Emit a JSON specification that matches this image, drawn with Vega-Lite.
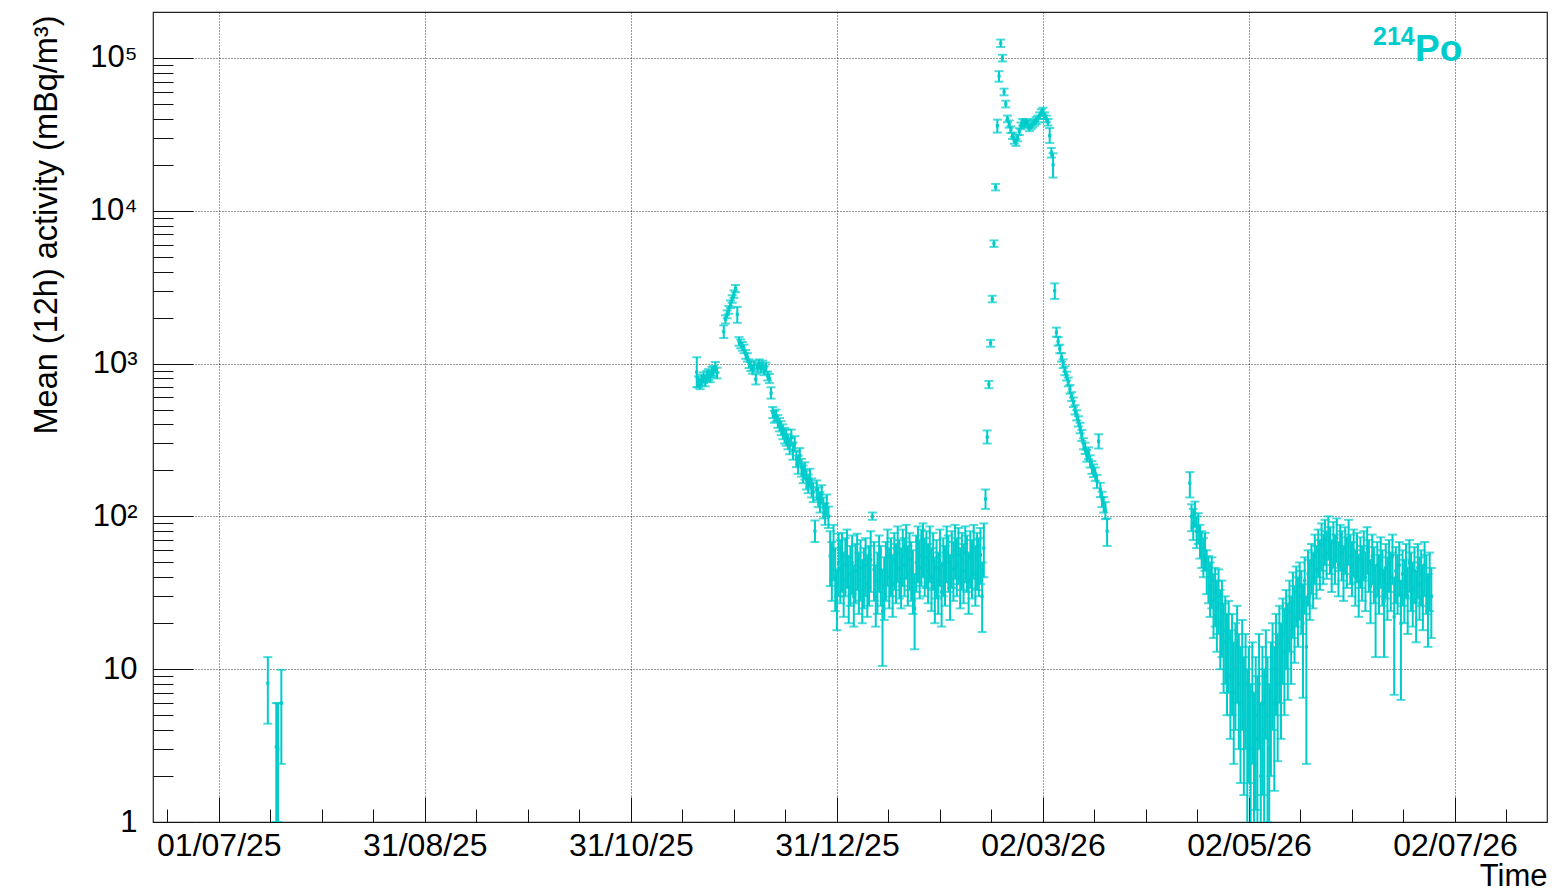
{
"$schema": "https://vega.github.io/schema/vega-lite/v6.json",
"width": 1394, "height": 810,
"autosize": {"type": "none"},
"padding": {"left": 153, "top": 12, "right": 5, "bottom": 71},
"background": "white",
"config": {"font": "Liberation Sans", "view": {"stroke": "#222", "strokeWidth": 1.2}, "axis": {"labelColor": "#000", "titleColor": "#000", "tickColor": "#111", "tickWidth": 1, "domain": false, "labelFont": "Liberation Sans", "titleFont": "Liberation Sans"}},
"data": {"values": [
{"t":"2025-07-15 12:00","v":8.1,"lo":4.4,"hi":12},
{"t":"2025-07-18 00:00","v":3.1,"lo":1,"hi":6},
{"t":"2025-07-18 12:00","v":3,"lo":1,"hi":6},
{"t":"2025-07-19 12:00","v":6,"lo":2.4,"hi":9.9},
{"t":"2025-11-19 12:00","v":880,"lo":700,"hi":1100},
{"t":"2025-11-20 00:00","v":760,"lo":700,"hi":825},
{"t":"2025-11-20 12:00","v":740,"lo":680,"hi":800},
{"t":"2025-11-21 00:00","v":780,"lo":720,"hi":845},
{"t":"2025-11-21 12:00","v":810,"lo":745,"hi":875},
{"t":"2025-11-22 00:00","v":770,"lo":710,"hi":830},
{"t":"2025-11-22 12:00","v":830,"lo":765,"hi":895},
{"t":"2025-11-23 00:00","v":850,"lo":780,"hi":920},
{"t":"2025-11-23 12:00","v":820,"lo":755,"hi":885},
{"t":"2025-11-24 00:00","v":880,"lo":810,"hi":950},
{"t":"2025-11-24 12:00","v":900,"lo":830,"hi":970},
{"t":"2025-11-25 00:00","v":950,"lo":875,"hi":1025},
{"t":"2025-11-25 12:00","v":870,"lo":800,"hi":940},
{"t":"2025-11-27 12:00","v":1620,"lo":1470,"hi":1780},
{"t":"2025-11-28 00:00","v":1950,"lo":1830,"hi":2070},
{"t":"2025-11-28 12:00","v":2100,"lo":1980,"hi":2230},
{"t":"2025-11-29 00:00","v":2250,"lo":2120,"hi":2380},
{"t":"2025-11-29 12:00","v":2450,"lo":2310,"hi":2590},
{"t":"2025-11-30 00:00","v":2650,"lo":2500,"hi":2800},
{"t":"2025-11-30 12:00","v":2850,"lo":2690,"hi":3010},
{"t":"2025-12-01 00:00","v":3100,"lo":2930,"hi":3270},
{"t":"2025-12-01 12:00","v":2100,"lo":1850,"hi":2350},
{"t":"2025-12-02 00:00","v":1400,"lo":1310,"hi":1490},
{"t":"2025-12-02 12:00","v":1350,"lo":1260,"hi":1440},
{"t":"2025-12-03 00:00","v":1300,"lo":1215,"hi":1385},
{"t":"2025-12-03 12:00","v":1250,"lo":1170,"hi":1330},
{"t":"2025-12-04 00:00","v":1150,"lo":1075,"hi":1225},
{"t":"2025-12-04 12:00","v":1100,"lo":1030,"hi":1170},
{"t":"2025-12-05 00:00","v":1000,"lo":935,"hi":1065},
{"t":"2025-12-05 12:00","v":960,"lo":895,"hi":1025},
{"t":"2025-12-06 00:00","v":920,"lo":860,"hi":980},
{"t":"2025-12-06 12:00","v":980,"lo":915,"hi":1045},
{"t":"2025-12-07 00:00","v":790,"lo":730,"hi":850},
{"t":"2025-12-07 12:00","v":950,"lo":885,"hi":1015},
{"t":"2025-12-08 00:00","v":1000,"lo":935,"hi":1065},
{"t":"2025-12-08 12:00","v":930,"lo":870,"hi":990},
{"t":"2025-12-09 00:00","v":980,"lo":915,"hi":1045},
{"t":"2025-12-09 12:00","v":900,"lo":840,"hi":960},
{"t":"2025-12-10 00:00","v":950,"lo":885,"hi":1015},
{"t":"2025-12-10 12:00","v":830,"lo":775,"hi":885},
{"t":"2025-12-11 00:00","v":800,"lo":745,"hi":855},
{"t":"2025-12-11 12:00","v":640,"lo":590,"hi":700},
{"t":"2025-12-12 00:00","v":480,"lo":440,"hi":520},
{"t":"2025-12-12 12:00","v":450,"lo":410,"hi":490},
{"t":"2025-12-13 00:00","v":460,"lo":420,"hi":500},
{"t":"2025-12-13 12:00","v":420,"lo":380,"hi":460},
{"t":"2025-12-14 00:00","v":400,"lo":360,"hi":440},
{"t":"2025-12-14 12:00","v":380,"lo":340,"hi":420},
{"t":"2025-12-15 00:00","v":360,"lo":320,"hi":400},
{"t":"2025-12-15 12:00","v":340,"lo":300,"hi":380},
{"t":"2025-12-16 00:00","v":330,"lo":290,"hi":370},
{"t":"2025-12-16 12:00","v":310,"lo":275,"hi":345},
{"t":"2025-12-17 00:00","v":290,"lo":255,"hi":325},
{"t":"2025-12-17 12:00","v":330,"lo":290,"hi":370},
{"t":"2025-12-18 00:00","v":270,"lo":235,"hi":305},
{"t":"2025-12-18 12:00","v":300,"lo":265,"hi":335},
{"t":"2025-12-19 00:00","v":240,"lo":210,"hi":270},
{"t":"2025-12-19 12:00","v":220,"lo":190,"hi":250},
{"t":"2025-12-20 00:00","v":250,"lo":220,"hi":280},
{"t":"2025-12-20 12:00","v":210,"lo":182,"hi":238},
{"t":"2025-12-21 00:00","v":190,"lo":165,"hi":215},
{"t":"2025-12-21 12:00","v":200,"lo":174,"hi":226},
{"t":"2025-12-22 00:00","v":175,"lo":150,"hi":200},
{"t":"2025-12-22 12:00","v":165,"lo":142,"hi":188},
{"t":"2025-12-23 00:00","v":180,"lo":155,"hi":205},
{"t":"2025-12-23 12:00","v":155,"lo":133,"hi":177},
{"t":"2025-12-24 00:00","v":145,"lo":124,"hi":166},
{"t":"2025-12-24 12:00","v":80,"lo":68,"hi":94},
{"t":"2025-12-25 00:00","v":150,"lo":128,"hi":172},
{"t":"2025-12-25 12:00","v":135,"lo":115,"hi":155},
{"t":"2025-12-26 00:00","v":125,"lo":106,"hi":144},
{"t":"2025-12-26 12:00","v":140,"lo":120,"hi":160},
{"t":"2025-12-27 00:00","v":115,"lo":97,"hi":133},
{"t":"2025-12-27 12:00","v":105,"lo":88,"hi":122},
{"t":"2025-12-28 00:00","v":120,"lo":101,"hi":139},
{"t":"2025-12-28 12:00","v":100,"lo":84,"hi":116},
{"t":"2025-12-29 00:00","v":55,"lo":35,"hi":80},
{"t":"2025-12-29 12:00","v":45,"lo":28,"hi":68},
{"t":"2025-12-30 00:00","v":60,"lo":38,"hi":88},
{"t":"2025-12-30 12:00","v":40,"lo":24,"hi":62},
{"t":"2025-12-31 00:00","v":28,"lo":18,"hi":45},
{"t":"2025-12-31 12:00","v":50,"lo":30,"hi":77},
{"t":"2026-01-01 00:00","v":45,"lo":27,"hi":70},
{"t":"2026-01-01 12:00","v":52,"lo":32,"hi":78},
{"t":"2026-01-02 00:00","v":38,"lo":22,"hi":58},
{"t":"2026-01-02 12:00","v":48,"lo":30,"hi":72},
{"t":"2026-01-03 00:00","v":55,"lo":34,"hi":82},
{"t":"2026-01-03 12:00","v":35,"lo":20,"hi":55},
{"t":"2026-01-04 00:00","v":42,"lo":26,"hi":64},
{"t":"2026-01-04 12:00","v":50,"lo":31,"hi":75},
{"t":"2026-01-05 00:00","v":30,"lo":19,"hi":48},
{"t":"2026-01-05 12:00","v":44,"lo":27,"hi":66},
{"t":"2026-01-06 00:00","v":52,"lo":33,"hi":77},
{"t":"2026-01-06 12:00","v":38,"lo":23,"hi":58},
{"t":"2026-01-07 00:00","v":46,"lo":28,"hi":70},
{"t":"2026-01-07 12:00","v":33,"lo":20,"hi":52},
{"t":"2026-01-08 00:00","v":40,"lo":25,"hi":62},
{"t":"2026-01-08 12:00","v":48,"lo":30,"hi":72},
{"t":"2026-01-09 00:00","v":36,"lo":22,"hi":56},
{"t":"2026-01-09 12:00","v":42,"lo":26,"hi":64},
{"t":"2026-01-10 00:00","v":52,"lo":32,"hi":80},
{"t":"2026-01-10 12:00","v":100,"lo":95,"hi":106},
{"t":"2026-01-11 00:00","v":45,"lo":28,"hi":68},
{"t":"2026-01-11 12:00","v":30,"lo":19,"hi":48},
{"t":"2026-01-12 00:00","v":38,"lo":23,"hi":58},
{"t":"2026-01-12 12:00","v":50,"lo":32,"hi":75},
{"t":"2026-01-13 00:00","v":42,"lo":26,"hi":64},
{"t":"2026-01-13 12:00","v":24,"lo":10.5,"hi":45},
{"t":"2026-01-14 00:00","v":35,"lo":21,"hi":54},
{"t":"2026-01-14 12:00","v":45,"lo":28,"hi":68},
{"t":"2026-01-15 00:00","v":55,"lo":35,"hi":82},
{"t":"2026-01-15 12:00","v":40,"lo":25,"hi":62},
{"t":"2026-01-16 00:00","v":48,"lo":30,"hi":72},
{"t":"2026-01-16 12:00","v":36,"lo":22,"hi":56},
{"t":"2026-01-17 00:00","v":52,"lo":33,"hi":78},
{"t":"2026-01-17 12:00","v":44,"lo":27,"hi":66},
{"t":"2026-01-18 00:00","v":58,"lo":37,"hi":86},
{"t":"2026-01-18 12:00","v":46,"lo":29,"hi":70},
{"t":"2026-01-19 00:00","v":40,"lo":25,"hi":62},
{"t":"2026-01-19 12:00","v":55,"lo":35,"hi":82},
{"t":"2026-01-20 00:00","v":48,"lo":30,"hi":72},
{"t":"2026-01-20 12:00","v":60,"lo":39,"hi":88},
{"t":"2026-01-21 00:00","v":42,"lo":26,"hi":64},
{"t":"2026-01-21 12:00","v":52,"lo":33,"hi":78},
{"t":"2026-01-22 00:00","v":45,"lo":28,"hi":68},
{"t":"2026-01-22 12:00","v":38,"lo":23,"hi":60},
{"t":"2026-01-23 00:00","v":25,"lo":13.5,"hi":42},
{"t":"2026-01-23 12:00","v":50,"lo":32,"hi":75},
{"t":"2026-01-24 00:00","v":58,"lo":37,"hi":86},
{"t":"2026-01-24 12:00","v":46,"lo":29,"hi":70},
{"t":"2026-01-25 00:00","v":55,"lo":35,"hi":82},
{"t":"2026-01-25 12:00","v":62,"lo":40,"hi":90},
{"t":"2026-01-26 00:00","v":48,"lo":30,"hi":72},
{"t":"2026-01-26 12:00","v":54,"lo":34,"hi":80},
{"t":"2026-01-27 00:00","v":44,"lo":27,"hi":66},
{"t":"2026-01-27 12:00","v":58,"lo":37,"hi":86},
{"t":"2026-01-28 00:00","v":40,"lo":24,"hi":62},
{"t":"2026-01-28 12:00","v":52,"lo":33,"hi":78},
{"t":"2026-01-29 00:00","v":34,"lo":20,"hi":54},
{"t":"2026-01-29 12:00","v":46,"lo":29,"hi":70},
{"t":"2026-01-30 00:00","v":38,"lo":23,"hi":58},
{"t":"2026-01-30 12:00","v":55,"lo":35,"hi":82},
{"t":"2026-01-31 00:00","v":32,"lo":19,"hi":50},
{"t":"2026-01-31 12:00","v":48,"lo":30,"hi":72},
{"t":"2026-02-01 00:00","v":42,"lo":26,"hi":64},
{"t":"2026-02-01 12:00","v":58,"lo":37,"hi":86},
{"t":"2026-02-02 00:00","v":50,"lo":32,"hi":75},
{"t":"2026-02-02 12:00","v":36,"lo":21,"hi":56},
{"t":"2026-02-03 00:00","v":54,"lo":34,"hi":80},
{"t":"2026-02-03 12:00","v":45,"lo":28,"hi":68},
{"t":"2026-02-04 00:00","v":60,"lo":39,"hi":88},
{"t":"2026-02-04 12:00","v":48,"lo":30,"hi":72},
{"t":"2026-02-05 00:00","v":56,"lo":36,"hi":84},
{"t":"2026-02-05 12:00","v":40,"lo":25,"hi":62},
{"t":"2026-02-06 00:00","v":52,"lo":33,"hi":78},
{"t":"2026-02-06 12:00","v":44,"lo":27,"hi":66},
{"t":"2026-02-07 00:00","v":58,"lo":37,"hi":86},
{"t":"2026-02-07 12:00","v":50,"lo":32,"hi":75},
{"t":"2026-02-08 00:00","v":38,"lo":23,"hi":58},
{"t":"2026-02-08 12:00","v":54,"lo":34,"hi":80},
{"t":"2026-02-09 00:00","v":46,"lo":29,"hi":70},
{"t":"2026-02-09 12:00","v":60,"lo":39,"hi":88},
{"t":"2026-02-10 00:00","v":42,"lo":26,"hi":64},
{"t":"2026-02-10 12:00","v":52,"lo":33,"hi":78},
{"t":"2026-02-11 00:00","v":48,"lo":30,"hi":72},
{"t":"2026-02-11 12:00","v":56,"lo":36,"hi":84},
{"t":"2026-02-12 00:00","v":30,"lo":17.5,"hi":50},
{"t":"2026-02-12 12:00","v":62,"lo":40,"hi":90},
{"t":"2026-02-13 00:00","v":130,"lo":112,"hi":150},
{"t":"2026-02-13 12:00","v":330,"lo":300,"hi":365},
{"t":"2026-02-14 00:00","v":730,"lo":690,"hi":770},
{"t":"2026-02-14 12:00","v":1360,"lo":1290,"hi":1430},
{"t":"2026-02-15 00:00","v":2650,"lo":2520,"hi":2780},
{"t":"2026-02-15 12:00","v":6100,"lo":5800,"hi":6400},
{"t":"2026-02-16 00:00","v":14300,"lo":13600,"hi":15000},
{"t":"2026-02-16 12:00","v":36000,"lo":32500,"hi":39500},
{"t":"2026-02-17 00:00","v":76000,"lo":70000,"hi":82000},
{"t":"2026-02-17 12:00","v":125000,"lo":118000,"hi":132000},
{"t":"2026-02-18 00:00","v":100000,"lo":95000,"hi":105000},
{"t":"2026-02-18 12:00","v":60000,"lo":57000,"hi":63000},
{"t":"2026-02-19 00:00","v":50000,"lo":47500,"hi":52500},
{"t":"2026-02-19 12:00","v":40000,"lo":38000,"hi":42000},
{"t":"2026-02-20 00:00","v":37000,"lo":35000,"hi":39000},
{"t":"2026-02-20 12:00","v":34000,"lo":32300,"hi":35700},
{"t":"2026-02-21 00:00","v":31000,"lo":29500,"hi":32500},
{"t":"2026-02-21 12:00","v":29000,"lo":27500,"hi":30500},
{"t":"2026-02-22 00:00","v":28000,"lo":26600,"hi":29400},
{"t":"2026-02-22 12:00","v":30000,"lo":28500,"hi":31500},
{"t":"2026-02-23 00:00","v":33000,"lo":31300,"hi":34700},
{"t":"2026-02-23 12:00","v":36000,"lo":34200,"hi":37800},
{"t":"2026-02-24 00:00","v":38000,"lo":36100,"hi":39900},
{"t":"2026-02-24 12:00","v":37000,"lo":35100,"hi":38900},
{"t":"2026-02-25 00:00","v":38000,"lo":36100,"hi":39900},
{"t":"2026-02-25 12:00","v":37000,"lo":35100,"hi":38900},
{"t":"2026-02-26 00:00","v":35000,"lo":33200,"hi":36800},
{"t":"2026-02-26 12:00","v":36000,"lo":34200,"hi":37800},
{"t":"2026-02-27 00:00","v":37000,"lo":35100,"hi":38900},
{"t":"2026-02-27 12:00","v":38000,"lo":36100,"hi":39900},
{"t":"2026-02-28 00:00","v":39000,"lo":37000,"hi":41000},
{"t":"2026-02-28 12:00","v":40000,"lo":38000,"hi":42000},
{"t":"2026-03-01 00:00","v":42000,"lo":39900,"hi":44100},
{"t":"2026-03-01 12:00","v":44000,"lo":41800,"hi":46200},
{"t":"2026-03-02 00:00","v":45000,"lo":42700,"hi":47300},
{"t":"2026-03-02 12:00","v":42000,"lo":39900,"hi":44100},
{"t":"2026-03-03 00:00","v":40000,"lo":38000,"hi":42000},
{"t":"2026-03-03 12:00","v":38000,"lo":36100,"hi":39900},
{"t":"2026-03-04 00:00","v":31000,"lo":27800,"hi":34800},
{"t":"2026-03-04 12:00","v":24000,"lo":22300,"hi":25800},
{"t":"2026-03-05 00:00","v":20000,"lo":16500,"hi":23800},
{"t":"2026-03-05 12:00","v":3000,"lo":2650,"hi":3350},
{"t":"2026-03-06 00:00","v":1600,"lo":1500,"hi":1720},
{"t":"2026-03-06 12:00","v":1400,"lo":1310,"hi":1490},
{"t":"2026-03-07 00:00","v":1250,"lo":1170,"hi":1330},
{"t":"2026-03-07 12:00","v":1100,"lo":1030,"hi":1170},
{"t":"2026-03-08 00:00","v":1000,"lo":935,"hi":1065},
{"t":"2026-03-08 12:00","v":900,"lo":840,"hi":960},
{"t":"2026-03-09 00:00","v":830,"lo":775,"hi":885},
{"t":"2026-03-09 12:00","v":760,"lo":710,"hi":810},
{"t":"2026-03-10 00:00","v":680,"lo":635,"hi":725},
{"t":"2026-03-10 12:00","v":610,"lo":570,"hi":650},
{"t":"2026-03-11 00:00","v":560,"lo":520,"hi":600},
{"t":"2026-03-11 12:00","v":500,"lo":465,"hi":535},
{"t":"2026-03-12 00:00","v":460,"lo":425,"hi":495},
{"t":"2026-03-12 12:00","v":420,"lo":388,"hi":452},
{"t":"2026-03-13 00:00","v":380,"lo":350,"hi":410},
{"t":"2026-03-13 12:00","v":340,"lo":312,"hi":368},
{"t":"2026-03-14 00:00","v":300,"lo":275,"hi":325},
{"t":"2026-03-14 12:00","v":280,"lo":256,"hi":304},
{"t":"2026-03-15 00:00","v":250,"lo":228,"hi":272},
{"t":"2026-03-15 12:00","v":260,"lo":237,"hi":283},
{"t":"2026-03-16 00:00","v":230,"lo":209,"hi":251},
{"t":"2026-03-16 12:00","v":210,"lo":190,"hi":230},
{"t":"2026-03-17 00:00","v":200,"lo":181,"hi":219},
{"t":"2026-03-17 12:00","v":190,"lo":171,"hi":209},
{"t":"2026-03-18 00:00","v":170,"lo":153,"hi":187},
{"t":"2026-03-18 12:00","v":310,"lo":278,"hi":345},
{"t":"2026-03-19 00:00","v":150,"lo":134,"hi":166},
{"t":"2026-03-19 12:00","v":130,"lo":115,"hi":145},
{"t":"2026-03-20 00:00","v":120,"lo":106,"hi":134},
{"t":"2026-03-20 12:00","v":110,"lo":96,"hi":124},
{"t":"2026-03-21 00:00","v":80,"lo":64,"hi":97},
{"t":"2026-04-14 12:00","v":165,"lo":133,"hi":195},
{"t":"2026-04-15 00:00","v":100,"lo":80,"hi":120},
{"t":"2026-04-15 12:00","v":90,"lo":70,"hi":112},
{"t":"2026-04-16 00:00","v":105,"lo":85,"hi":125},
{"t":"2026-04-16 12:00","v":80,"lo":62,"hi":100},
{"t":"2026-04-17 00:00","v":85,"lo":66,"hi":105},
{"t":"2026-04-17 12:00","v":70,"lo":53,"hi":88},
{"t":"2026-04-18 00:00","v":62,"lo":46,"hi":80},
{"t":"2026-04-18 12:00","v":55,"lo":40,"hi":72},
{"t":"2026-04-19 00:00","v":60,"lo":44,"hi":78},
{"t":"2026-04-19 12:00","v":45,"lo":31,"hi":60},
{"t":"2026-04-20 00:00","v":40,"lo":27,"hi":55},
{"t":"2026-04-20 12:00","v":35,"lo":22,"hi":50},
{"t":"2026-04-21 00:00","v":38,"lo":25,"hi":54},
{"t":"2026-04-21 12:00","v":28,"lo":16,"hi":42},
{"t":"2026-04-22 00:00","v":32,"lo":19,"hi":46},
{"t":"2026-04-22 12:00","v":25,"lo":13,"hi":38},
{"t":"2026-04-23 00:00","v":30,"lo":17,"hi":45},
{"t":"2026-04-23 12:00","v":20,"lo":10,"hi":33},
{"t":"2026-04-24 00:00","v":24,"lo":12,"hi":38},
{"t":"2026-04-24 12:00","v":15,"lo":7,"hi":27},
{"t":"2026-04-25 00:00","v":18,"lo":8,"hi":30},
{"t":"2026-04-25 12:00","v":12,"lo":5,"hi":23},
{"t":"2026-04-26 00:00","v":16,"lo":7,"hi":28},
{"t":"2026-04-26 12:00","v":9,"lo":3.5,"hi":18},
{"t":"2026-04-27 00:00","v":12,"lo":5,"hi":23},
{"t":"2026-04-27 12:00","v":7,"lo":2.4,"hi":15},
{"t":"2026-04-28 00:00","v":10,"lo":4,"hi":20},
{"t":"2026-04-28 12:00","v":14,"lo":6,"hi":26},
{"t":"2026-04-29 00:00","v":8,"lo":3,"hi":17},
{"t":"2026-04-29 12:00","v":6,"lo":1.8,"hi":14},
{"t":"2026-04-30 00:00","v":11,"lo":4,"hi":21},
{"t":"2026-04-30 12:00","v":5,"lo":1.5,"hi":12},
{"t":"2026-05-01 00:00","v":8,"lo":3,"hi":17},
{"t":"2026-05-01 12:00","v":4,"lo":0.6,"hi":10},
{"t":"2026-05-02 00:00","v":6,"lo":1.8,"hi":14},
{"t":"2026-05-02 12:00","v":3,"lo":0.5,"hi":8},
{"t":"2026-05-03 00:00","v":7,"lo":2.4,"hi":15},
{"t":"2026-05-03 12:00","v":2.5,"lo":0.4,"hi":7},
{"t":"2026-05-04 00:00","v":5,"lo":1.2,"hi":12},
{"t":"2026-05-04 12:00","v":3.5,"lo":0.6,"hi":9},
{"t":"2026-05-05 00:00","v":8,"lo":3,"hi":17},
{"t":"2026-05-05 12:00","v":2,"lo":0.3,"hi":6},
{"t":"2026-05-06 00:00","v":6,"lo":1.5,"hi":14},
{"t":"2026-05-06 12:00","v":4,"lo":0.7,"hi":10},
{"t":"2026-05-07 00:00","v":9,"lo":3.5,"hi":18},
{"t":"2026-05-07 12:00","v":5,"lo":1,"hi":12},
{"t":"2026-05-08 00:00","v":3,"lo":0.5,"hi":8},
{"t":"2026-05-08 12:00","v":7,"lo":2,"hi":15},
{"t":"2026-05-09 00:00","v":10,"lo":4,"hi":20},
{"t":"2026-05-09 12:00","v":6,"lo":1.6,"hi":14},
{"t":"2026-05-10 00:00","v":12,"lo":5,"hi":23},
{"t":"2026-05-10 12:00","v":8,"lo":2.5,"hi":17},
{"t":"2026-05-11 00:00","v":14,"lo":6,"hi":26},
{"t":"2026-05-11 12:00","v":10,"lo":3.5,"hi":20},
{"t":"2026-05-12 00:00","v":17,"lo":8,"hi":29},
{"t":"2026-05-12 12:00","v":13,"lo":5,"hi":25},
{"t":"2026-05-13 00:00","v":20,"lo":10,"hi":33},
{"t":"2026-05-13 12:00","v":15,"lo":6.3,"hi":27},
{"t":"2026-05-14 00:00","v":24,"lo":13,"hi":38},
{"t":"2026-05-14 12:00","v":18,"lo":8,"hi":30},
{"t":"2026-05-15 00:00","v":28,"lo":16,"hi":43},
{"t":"2026-05-15 12:00","v":22,"lo":11,"hi":35},
{"t":"2026-05-16 00:00","v":32,"lo":19,"hi":47},
{"t":"2026-05-16 12:00","v":26,"lo":14,"hi":40},
{"t":"2026-05-17 00:00","v":35,"lo":21,"hi":50},
{"t":"2026-05-17 12:00","v":30,"lo":17,"hi":44},
{"t":"2026-05-18 00:00","v":20,"lo":6.5,"hi":36},
{"t":"2026-05-18 12:00","v":38,"lo":23,"hi":54},
{"t":"2026-05-19 00:00","v":14,"lo":2.4,"hi":30},
{"t":"2026-05-19 12:00","v":42,"lo":26,"hi":60},
{"t":"2026-05-20 00:00","v":36,"lo":21,"hi":52},
{"t":"2026-05-20 12:00","v":48,"lo":31,"hi":66},
{"t":"2026-05-21 00:00","v":40,"lo":25,"hi":58},
{"t":"2026-05-21 12:00","v":55,"lo":36,"hi":76},
{"t":"2026-05-22 00:00","v":45,"lo":29,"hi":64},
{"t":"2026-05-22 12:00","v":60,"lo":40,"hi":82},
{"t":"2026-05-23 00:00","v":50,"lo":33,"hi":70},
{"t":"2026-05-23 12:00","v":65,"lo":44,"hi":90},
{"t":"2026-05-24 00:00","v":55,"lo":36,"hi":76},
{"t":"2026-05-24 12:00","v":70,"lo":48,"hi":95},
{"t":"2026-05-25 00:00","v":58,"lo":39,"hi":80},
{"t":"2026-05-25 12:00","v":75,"lo":52,"hi":100},
{"t":"2026-05-26 00:00","v":62,"lo":42,"hi":85},
{"t":"2026-05-26 12:00","v":50,"lo":32,"hi":70},
{"t":"2026-05-27 00:00","v":68,"lo":46,"hi":92},
{"t":"2026-05-27 12:00","v":55,"lo":36,"hi":76},
{"t":"2026-05-28 00:00","v":72,"lo":50,"hi":97},
{"t":"2026-05-28 12:00","v":48,"lo":30,"hi":68},
{"t":"2026-05-29 00:00","v":65,"lo":44,"hi":88},
{"t":"2026-05-29 12:00","v":58,"lo":38,"hi":80},
{"t":"2026-05-30 00:00","v":45,"lo":28,"hi":64},
{"t":"2026-05-30 12:00","v":62,"lo":42,"hi":85},
{"t":"2026-05-31 00:00","v":52,"lo":34,"hi":73},
{"t":"2026-05-31 12:00","v":70,"lo":48,"hi":95},
{"t":"2026-06-01 00:00","v":55,"lo":36,"hi":76},
{"t":"2026-06-01 12:00","v":48,"lo":30,"hi":68},
{"t":"2026-06-02 00:00","v":60,"lo":40,"hi":82},
{"t":"2026-06-02 12:00","v":42,"lo":26,"hi":60},
{"t":"2026-06-03 00:00","v":56,"lo":37,"hi":78},
{"t":"2026-06-03 12:00","v":38,"lo":22,"hi":56},
{"t":"2026-06-04 00:00","v":52,"lo":34,"hi":73},
{"t":"2026-06-04 12:00","v":45,"lo":28,"hi":64},
{"t":"2026-06-05 00:00","v":58,"lo":38,"hi":80},
{"t":"2026-06-05 12:00","v":40,"lo":24,"hi":58},
{"t":"2026-06-06 00:00","v":62,"lo":42,"hi":85},
{"t":"2026-06-06 12:00","v":50,"lo":32,"hi":70},
{"t":"2026-06-07 00:00","v":35,"lo":20,"hi":52},
{"t":"2026-06-07 12:00","v":55,"lo":36,"hi":76},
{"t":"2026-06-08 00:00","v":44,"lo":27,"hi":63},
{"t":"2026-06-08 12:00","v":30,"lo":12,"hi":48},
{"t":"2026-06-09 00:00","v":48,"lo":30,"hi":68},
{"t":"2026-06-09 12:00","v":38,"lo":23,"hi":56},
{"t":"2026-06-10 00:00","v":52,"lo":34,"hi":73},
{"t":"2026-06-10 12:00","v":42,"lo":26,"hi":60},
{"t":"2026-06-11 00:00","v":28,"lo":12,"hi":45},
{"t":"2026-06-11 12:00","v":46,"lo":29,"hi":66},
{"t":"2026-06-12 00:00","v":36,"lo":21,"hi":54},
{"t":"2026-06-12 12:00","v":50,"lo":32,"hi":70},
{"t":"2026-06-13 00:00","v":40,"lo":24,"hi":58},
{"t":"2026-06-13 12:00","v":55,"lo":36,"hi":76},
{"t":"2026-06-14 00:00","v":22,"lo":6.8,"hi":40},
{"t":"2026-06-14 12:00","v":44,"lo":27,"hi":63},
{"t":"2026-06-15 00:00","v":38,"lo":23,"hi":56},
{"t":"2026-06-15 12:00","v":48,"lo":30,"hi":68},
{"t":"2026-06-16 00:00","v":20,"lo":6.3,"hi":38},
{"t":"2026-06-16 12:00","v":42,"lo":26,"hi":60},
{"t":"2026-06-17 00:00","v":35,"lo":20,"hi":52},
{"t":"2026-06-17 12:00","v":46,"lo":29,"hi":66},
{"t":"2026-06-18 00:00","v":30,"lo":17,"hi":46},
{"t":"2026-06-18 12:00","v":50,"lo":32,"hi":70},
{"t":"2026-06-19 00:00","v":40,"lo":24,"hi":58},
{"t":"2026-06-19 12:00","v":34,"lo":19,"hi":50},
{"t":"2026-06-20 00:00","v":44,"lo":27,"hi":63},
{"t":"2026-06-20 12:00","v":28,"lo":15,"hi":44},
{"t":"2026-06-21 00:00","v":46,"lo":29,"hi":66},
{"t":"2026-06-21 12:00","v":36,"lo":21,"hi":54},
{"t":"2026-06-22 00:00","v":42,"lo":26,"hi":60},
{"t":"2026-06-22 12:00","v":32,"lo":18,"hi":48},
{"t":"2026-06-23 00:00","v":48,"lo":30,"hi":68},
{"t":"2026-06-23 12:00","v":38,"lo":23,"hi":56},
{"t":"2026-06-24 00:00","v":26,"lo":14,"hi":42},
{"t":"2026-06-24 12:00","v":40,"lo":24,"hi":58},
{"t":"2026-06-25 00:00","v":30,"lo":16,"hi":46}
]},
"encoding": {"color": {"datum": "Po", "type": "nominal", "scale": {"range": ["#00CCCC"]}, "legend": {"orient": "none", "legendX": 1220, "legendY": 19, "title": "214", "titleOrient": "left", "titleAnchor": "start", "titleBaseline": "line-top", "titleLineHeight": 13, "titleFontSize": 25, "titleFontWeight": "bold", "titleColor": "#00CCCC", "titlePadding": -37, "labelFontSize": 37, "labelFontWeight": "bold", "labelColor": "#00CCCC", "symbolSize": 0, "symbolOpacity": 0, "symbolStrokeWidth": 0, "labelOffset": 0, "padding": 0}}},
"layer": [
{"mark": {"type": "rule", "strokeWidth": 2, "clip": true},
 "encoding": {
  "x": {"field": "t", "type": "temporal",
   "scale": {"domain": [{"year": 2025, "month": 6, "date": 11, "hours": 12}, {"year": 2026, "month": 7, "date": 29, "hours": 6}], "nice": false},
   "axis": {"orient": "bottom", "values": [{"year": 2025, "month": 7, "date": 1}, {"year": 2025, "month": 8, "date": 31}, {"year": 2025, "month": 10, "date": 31}, {"year": 2025, "month": 12, "date": 31}, {"year": 2026, "month": 3, "date": 2}, {"year": 2026, "month": 5, "date": 2}, {"year": 2026, "month": 7, "date": 2}],
    "format": "%d/%m/%y", "ticks": false, "grid": true, "gridColor": "#000", "gridDash": [1, 2], "gridWidth": 1, "gridOpacity": 0.8, "labelFontSize": 32, "labelPadding": 8, "labelFlush": false, "labelOverlap": false, "labelBound": false,
    "title": "Time", "titleFontSize": 31, "titleFontWeight": "normal", "titleAnchor": "end", "titlePadding": 0}},
  "y": {"field": "lo", "type": "quantitative",
   "scale": {"type": "log", "domain": [1, 200000], "nice": false},
   "axis": {"orient": "left", "values": [1, 10, 100, 1000, 10000, 100000],
    "labelExpr": "datum.value == 1 ? '1' : datum.value == 10 ? '10' : datum.value == 100 ? '10²' : datum.value == 1000 ? '10³' : datum.value == 10000 ? '10⁴' : '10⁵'",
    "ticks": false, "grid": true, "gridColor": "#000", "gridDash": [1, 2], "gridWidth": 1, "gridOpacity": 0.8, "labelFontSize": 31, "labelPadding": 16, "labelOverlap": false, "labelBound": false,
    "title": "Mean (12h) activity (mBq/m³)", "titleFontSize": 32.5, "titleFontWeight": "normal", "titleAnchor": "end", "titlePadding": 26, "titleY": 3}},
  "y2": {"field": "hi"}
 }},
{"mark": {"type": "tick", "orient": "horizontal", "size": 9, "thickness": 2, "clip": true},
 "encoding": {
  "x": {"field": "t", "type": "temporal",
   "axis": {"orient": "bottom", "values": [{"year": 2025, "month": 7, "date": 1}, {"year": 2025, "month": 8, "date": 31}, {"year": 2025, "month": 10, "date": 31}, {"year": 2025, "month": 12, "date": 31}, {"year": 2026, "month": 3, "date": 2}, {"year": 2026, "month": 5, "date": 2}, {"year": 2026, "month": 7, "date": 2}],
    "labels": false, "grid": false, "ticks": true, "tickSize": -25, "title": null}},
  "y": {"field": "lo", "type": "quantitative",
   "axis": {"orient": "left", "values": [1, 10, 100, 1000, 10000, 100000], "labels": false, "grid": false, "ticks": true, "tickSize": -40, "title": null}}
 }},
{"mark": {"type": "tick", "orient": "horizontal", "size": 9, "thickness": 2, "clip": true},
 "encoding": {
  "x": {"field": "t", "type": "temporal",
   "axis": {"orient": "bottom", "values": [{"year": 2025, "month": 6, "date": 15, "hours": 18}, {"year": 2025, "month": 7, "date": 16, "hours": 6}, {"year": 2025, "month": 7, "date": 31, "hours": 12}, {"year": 2025, "month": 8, "date": 15, "hours": 18}, {"year": 2025, "month": 9, "date": 15, "hours": 6}, {"year": 2025, "month": 9, "date": 30, "hours": 12}, {"year": 2025, "month": 10, "date": 15, "hours": 18}, {"year": 2025, "month": 11, "date": 15, "hours": 6}, {"year": 2025, "month": 11, "date": 30, "hours": 12}, {"year": 2025, "month": 12, "date": 15, "hours": 18}, {"year": 2026, "month": 1, "date": 15, "hours": 6}, {"year": 2026, "month": 1, "date": 30, "hours": 12}, {"year": 2026, "month": 2, "date": 14, "hours": 18}, {"year": 2026, "month": 3, "date": 17, "hours": 6}, {"year": 2026, "month": 4, "date": 1, "hours": 12}, {"year": 2026, "month": 4, "date": 16, "hours": 18}, {"year": 2026, "month": 5, "date": 17, "hours": 6}, {"year": 2026, "month": 6, "date": 1, "hours": 12}, {"year": 2026, "month": 6, "date": 16, "hours": 18}, {"year": 2026, "month": 7, "date": 17, "hours": 6}],
    "labels": false, "grid": false, "ticks": true, "tickSize": -13, "title": null}},
  "y": {"field": "hi", "type": "quantitative",
   "axis": {"orient": "left", "values": [2, 3, 4, 5, 6, 7, 8, 9, 20, 30, 40, 50, 60, 70, 80, 90, 200, 300, 400, 500, 600, 700, 800, 900, 2000, 3000, 4000, 5000, 6000, 7000, 8000, 9000, 20000, 30000, 40000, 50000, 60000, 70000, 80000, 90000], "labels": false, "grid": false, "ticks": true, "tickSize": -20, "title": null}}
 }},
{"mark": {"type": "square", "size": 10, "opacity": 1, "clip": true},
 "encoding": {
  "x": {"field": "t", "type": "temporal", "axis": null},
  "y": {"field": "v", "type": "quantitative", "axis": null}
 }}
],
"resolve": {"axis": {"x": "independent", "y": "independent"}}
}
